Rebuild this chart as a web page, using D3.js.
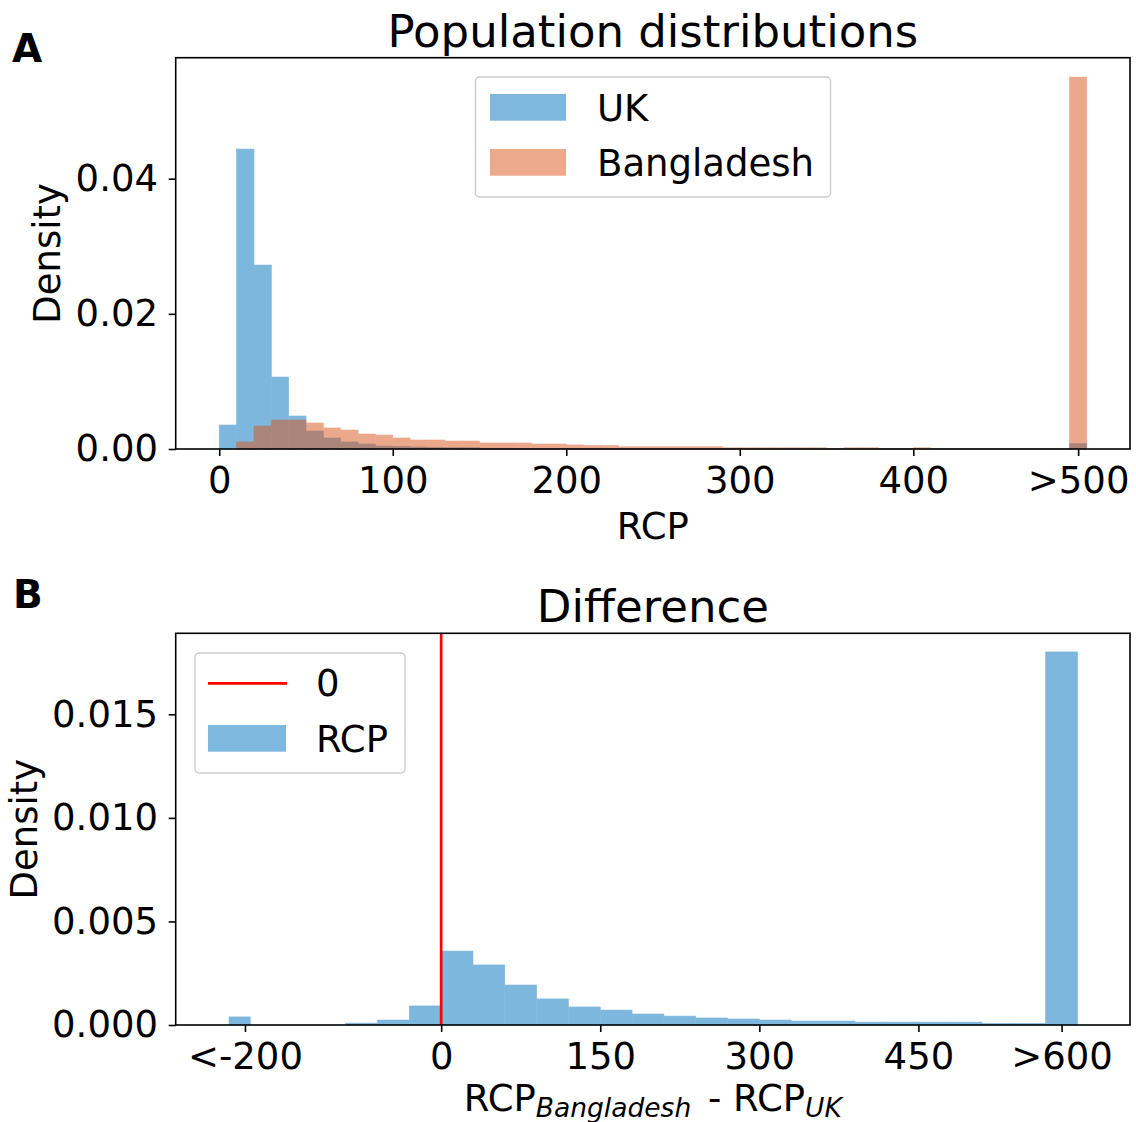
<!DOCTYPE html>
<html>
<head>
<meta charset="utf-8">
<script src="https://cdn.jsdelivr.net/npm/d3@7"></script>
<style>
  body { margin: 0; background: #fff; }
  svg text { font-family: "DejaVu Sans", sans-serif; fill: #000; }
</style>
</head>
<body>
<div id="chart"></div>
<script>
// ---- data ----
// panel A: bins of width 10 from 0 to 500, last bin collects everything >500
const topBinStarts = [0,10,20,30,40,50,60,70,80,90,100,110,120,130,140,150,160,170,180,190,
  200,210,220,230,240,250,260,270,280,290,300,310,320,330,340,350,360,370,380,390,
  400,410,420,430,440,450,460,470,480,490];
const ukDensity = [0.00355,0.04438,0.02722,0.01065,0.00488,0.00266,0.00163,0.00104,0.00074,0.00044,
  0.00040,0.00030,0.00025,0.00020,0.00020,0.00012,0.00012,0.00010,0.00010,0.00010,
  0.00008,0.00008,0.00007,0.00007,0.00006,0.00006,0.00006,0.00005,0.00005,0.00005,
  0.00004,0.00004,0.00004,0.00004,0.00004,0.00004,0.00004,0.00004,0.00004,0.00004,
  0.00002,0.00002,0.00002,0.00002,0.00002,0.00002,0.00002,0.00002,0.00002,0.00080];
const bdDensity = [0,0.00104,0.00340,0.00429,0.00429,0.00385,0.00311,0.00281,0.00222,0.00207,
  0.00163,0.00133,0.00133,0.00118,0.00118,0.00089,0.00089,0.00089,0.00074,0.00074,
  0.00060,0.00050,0.00050,0.00033,0.00033,0.00033,0.00033,0.00033,0.00033,0.00018,
  0.00018,0.00018,0.00018,0.00018,0.00018,0.00003,0.00018,0.00018,0.00003,0.00003,
  0.00018,0.00002,0.00002,0.00002,0.00002,0.00002,0.00002,0.00002,0.00002,0.05503];
const topTickValues = [0, 100, 200, 300, 400, 495];
const topTickLabels = ["0", "100", "200", "300", "400", ">500"];
const topYTicks = [0, 0.02, 0.04];

// panel B: difference histogram
const diffEdges = [-200,-180,-150,-120,-90,-60,-30,0,30,60,90,120,150,180,210,240,270,300,
  330,360,390,420,450,480,510,540,570,600];
const diffDensity = [0.00039,0,0,0,0.00009,0.00024,0.00092,0.00357,0.00290,0.00193,0.00126,
  0.00087,0.00072,0.00053,0.00043,0.00034,0.00029,0.00024,0.00019,0.00019,0.00014,
  0.00014,0.00014,0.00014,0.00008,0.00008,0.01801];
const bottomTickValues = [-185, 0, 150, 300, 450, 585];
const bottomTickLabels = ["<-200", "0", "150", "300", "450", ">600"];
const bottomYTicks = [0, 0.005, 0.010, 0.015];

// ---- layout ----
const W = 1136, H = 1122;
const BLUE = "#0072BD", ORANGE = "#D95319";
const TICK_FS = 37, TITLE_FS = 45;
const LEFT = 175.7, RIGHT = 1130;

const svg = d3.select("#chart").append("svg")
  .attr("width", W).attr("height", H)
  .style("background", "#fff");

function panel(top, bottom, xDomain, yDomain) {
  const x = d3.scaleLinear().domain(xDomain).range([LEFT, RIGHT]);
  const y = d3.scaleLinear().domain(yDomain).range([bottom, top]);
  return { x, y, top, bottom };
}

function drawAxes(p, xVals, xLabels, yVals, yFmt) {
  const gx = svg.append("g").attr("transform", `translate(0,${p.bottom})`)
    .call(d3.axisBottom(p.x).tickValues(xVals)
      .tickFormat((d, i) => xLabels[i]).tickSize(7).tickSizeOuter(0).tickPadding(10.7));
  const gy = svg.append("g").attr("transform", `translate(${LEFT},0)`)
    .call(d3.axisLeft(p.y).tickValues(yVals).tickFormat(yFmt)
      .tickSize(7).tickSizeOuter(0).tickPadding(10.7));
  [gx, gy].forEach(g => {
    g.select(".domain").remove();
    g.selectAll(".tick line").attr("stroke", "#000").attr("stroke-width", 1.6);
    g.selectAll(".tick text").attr("font-size", TICK_FS)
      .style("font-family", "'DejaVu Sans', sans-serif").attr("fill", "#000");
  });
  // frame
  svg.append("rect")
    .attr("x", LEFT).attr("y", p.top)
    .attr("width", RIGHT - LEFT).attr("height", p.bottom - p.top)
    .attr("fill", "none").attr("stroke", "#000").attr("stroke-width", 1.6);
}

// ---- panel A ----
const pA = panel(57.7, 449, [-25.1, 524.9], [0, 0.0579]);

function drawHist(p, starts, ends, values, color) {
  const g = svg.append("g").attr("opacity", 0.5);
  g.selectAll("rect").data(values).join("rect")
    .attr("x", (d, i) => p.x(starts[i]))
    .attr("width", (d, i) => p.x(ends[i]) - p.x(starts[i]))
    .attr("y", d => p.y(d))
    .attr("height", d => p.y(0) - p.y(d))
    .attr("fill", color)
    .attr("stroke", d => d > 0 ? color : "none")
    .attr("stroke-width", 0.6);
}

drawHist(pA, topBinStarts, topBinStarts.map(s => s + 10), ukDensity, BLUE);
drawHist(pA, topBinStarts, topBinStarts.map(s => s + 10), bdDensity, ORANGE);
drawAxes(pA, topTickValues, topTickLabels, topYTicks, d3.format(".2f"));

svg.append("text").attr("x", (LEFT + RIGHT) / 2).attr("y", 47)
  .attr("text-anchor", "middle").attr("font-size", TITLE_FS)
  .text("Population distributions");
svg.append("text").attr("x", (LEFT + RIGHT) / 2).attr("y", 539)
  .attr("text-anchor", "middle").attr("font-size", TICK_FS).text("RCP");
svg.append("text").attr("transform", `translate(60,${(pA.top + pA.bottom) / 2}) rotate(-90)`)
  .attr("text-anchor", "middle").attr("font-size", TICK_FS).text("Density");
svg.append("text").attr("x", 12).attr("y", 62)
  .attr("font-size", 39).attr("font-weight", "bold").text("A");

// legend A
const legA = svg.append("g");
legA.append("rect").attr("x", 475.5).attr("y", 77).attr("width", 355).attr("height", 120)
  .attr("rx", 4).attr("fill", "#fff").attr("fill-opacity", 0.8)
  .attr("stroke", "#cccccc").attr("stroke-width", 1.4);
const legAItems = [{ name: "UK", color: BLUE }, { name: "Bangladesh", color: ORANGE }];
legAItems.forEach((d, i) => {
  const yy = 94 + i * 55;
  legA.append("rect").attr("x", 490).attr("y", yy).attr("width", 76).attr("height", 26.7)
    .attr("fill", d.color).attr("fill-opacity", 0.5);
  legA.append("text").attr("x", 597).attr("y", yy + 26.7)
    .attr("font-size", TICK_FS).text(d.name);
});

// ---- panel B ----
const pB = panel(633.3, 1025, [-250.3, 649.5], [0, 0.01891]);
drawHist(pB, diffEdges.slice(0, -1), diffEdges.slice(1), diffDensity, BLUE);

svg.append("line")
  .attr("x1", pB.x(0)).attr("x2", pB.x(0))
  .attr("y1", pB.top).attr("y2", pB.bottom)
  .attr("stroke", "#ff0000").attr("stroke-width", 2.7);

drawAxes(pB, bottomTickValues, bottomTickLabels, bottomYTicks, d3.format(".3f"));

svg.append("text").attr("x", (LEFT + RIGHT) / 2).attr("y", 622)
  .attr("text-anchor", "middle").attr("font-size", TITLE_FS).text("Difference");
svg.append("text").attr("transform", `translate(37,${(pB.top + pB.bottom) / 2}) rotate(-90)`)
  .attr("text-anchor", "middle").attr("font-size", TICK_FS).text("Density");
svg.append("text").attr("x", 13).attr("y", 608)
  .attr("font-size", 39).attr("font-weight", "bold").text("B");

const xl = svg.append("text").attr("x", (LEFT + RIGHT) / 2).attr("y", 1111)
  .attr("text-anchor", "middle").attr("font-size", TICK_FS);
xl.append("tspan").text("RCP");
xl.append("tspan").attr("dy", 6).attr("font-size", 26.5).attr("font-style", "italic").text("Bangladesh");
xl.append("tspan").attr("dy", -6).attr("dx", 5).text(" - RCP");
xl.append("tspan").attr("dy", 6).attr("font-size", 26.5).attr("font-style", "italic").text("UK");

// legend B
const legB = svg.append("g");
legB.append("rect").attr("x", 195).attr("y", 653).attr("width", 210).attr("height", 120)
  .attr("rx", 4).attr("fill", "#fff").attr("fill-opacity", 0.8)
  .attr("stroke", "#cccccc").attr("stroke-width", 1.4);
legB.append("line").attr("x1", 208).attr("x2", 287).attr("y1", 683.3).attr("y2", 683.3)
  .attr("stroke", "#ff0000").attr("stroke-width", 2.7);
legB.append("text").attr("x", 316).attr("y", 696).attr("font-size", TICK_FS).text("0");
legB.append("rect").attr("x", 208).attr("y", 725).attr("width", 78).attr("height", 26.7)
  .attr("fill", BLUE).attr("fill-opacity", 0.5);
legB.append("text").attr("x", 316).attr("y", 751.7).attr("font-size", TICK_FS).text("RCP");
</script>
</body>
</html>
